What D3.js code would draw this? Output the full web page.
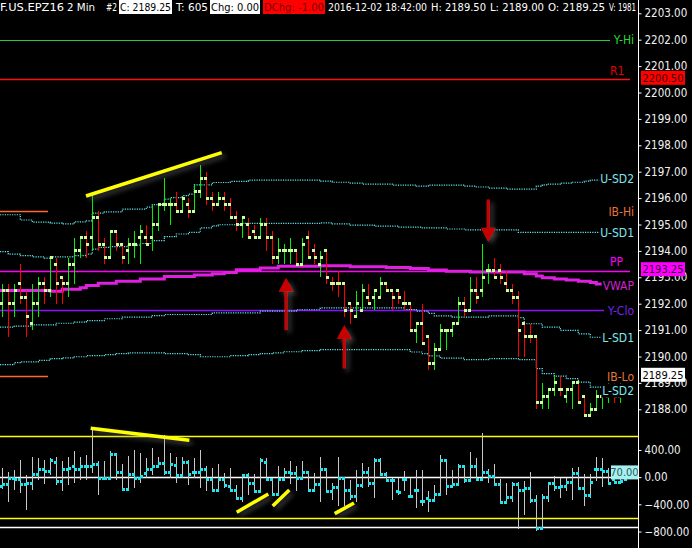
<!DOCTYPE html>
<html>
<head>
<meta charset="utf-8">
<script src="https://cdn.jsdelivr.net/npm/d3@7"></script>
<style>
  html, body { margin: 0; padding: 0; background: #000; }
  svg { display: block; }
  text { font-family: "DejaVu Sans Condensed", "DejaVu Sans", sans-serif; }
</style>
</head>
<body>
<div id="chart"></div>
<script>
// ---- price bars (F.US.EPZ16, 2 min) ----
const open = [2192,2192.5,2192,2192.75,2192.25,2191.25,2192,2192.75,2192.5,2193.5,
  2193,2192.75,2193.5,2194,2194.5,2194.5,2195.25,2194.25,2193.75,2194.75,
  2194.25,2194,2194.25,2194.5,2194.5,2194.5,2195,2195.75,2195.75,2195.75,
  2195.5,2195.75,2195.5,2196.25,2196.75,2196,2195.75,2196,2195.75,2195.25,
  2195,2195,2194.75,2194.5,2195,2194.5,2193.75,2194,2194,2194,
  2193.5,2194.5,2194,2193.5,2194,2192.75,2192.75,2192.75,2192,2191.5,
  2191.75,2192.25,2192.25,2192.25,2192.75,2192.5,2192.5,2192,2192,2191,
  2191.25,2190.75,2189.75,2190.25,2191,2191,2191.25,2192,2191.75,2192.5,
  2192.5,2193.25,2193.25,2193.25,2192.75,2192.5,2192.25,2191.25,2190.75,2190.75,
  2188.25,2188.5,2188.75,2188.75,2188.5,2188.75,2189,2188.5,2187.75,2188,
  2188.5,2188.5,2188.75,2188.5,2189.25];
const high = [2192.75,2192.75,2192.75,2193.5,2192.5,2192.75,2193,2193,2193.75,2193.75,
  2193,2193.75,2194.5,2194.5,2194.75,2196.25,2195.5,2194.5,2194.75,2194.75,
  2194.25,2194.5,2194.75,2195,2195,2195.75,2195.75,2196.75,2196,2196.25,
  2196,2196,2196.5,2197.25,2197,2196.25,2196.25,2196.25,2196,2195.5,
  2195.25,2195.25,2195,2195.25,2195.25,2194.75,2194.5,2194.25,2194.5,2194,
  2194.5,2194.75,2194.25,2194,2194,2193,2193.25,2192.75,2192,2192.5,
  2192.75,2192.75,2192.5,2193,2192.75,2192.5,2192.5,2192.5,2192,2191.25,
  2192,2190.75,2190.5,2191.25,2191,2191.25,2192.25,2192.25,2193,2193,
  2194.25,2193.5,2193.75,2193.5,2193.25,2192.75,2192.5,2191.25,2191.25,2190.75,
  2189,2188.75,2189.25,2189.25,2188.75,2189,2189,2188.5,2188.25,2188.75,
  2188.75,2189,2189,2189,2189.5];
const low = [2191.5,2190.75,2191.5,2192,2190.75,2191,2191.5,2192,2192.25,2192,
  2192,2192.25,2192.75,2193.75,2193.75,2194,2194,2193.5,2193.75,2194,
  2193.5,2193.5,2193.75,2193.5,2194.25,2194,2194.75,2195.5,2195,2195.5,
  2195.5,2195.25,2195.5,2196,2195.75,2195.5,2195.75,2195.5,2195.25,2194.75,
  2194.5,2194.5,2194.5,2194.5,2194,2193.5,2193.5,2193.5,2193.5,2193.5,
  2193.5,2193.75,2193.5,2193,2192.75,2192.5,2192.25,2191.5,2191.25,2191.5,
  2191.75,2192,2191.75,2192.25,2192.5,2191.75,2192,2191.75,2191,2190.5,
  2190.5,2189.5,2189.5,2190.25,2190.25,2190.75,2191.25,2191.5,2191.75,2192,
  2192.25,2192.75,2193,2192.75,2192.5,2192,2190,2190,2190.5,2188,
  2188,2188,2188.5,2188.5,2188.25,2188,2188.25,2187.75,2187.75,2188,
  2188,2188.25,2188.25,2188.25,2189];
const close = [2192.5,2192,2192.5,2192.25,2191.5,2192,2192.75,2192.5,2193.75,2192.75,
  2192.75,2193.5,2194,2194.5,2194.25,2195.25,2194.25,2193.75,2194.75,2194.25,
  2193.75,2194.25,2194.25,2194.75,2194.25,2195,2195.75,2195.75,2195.75,2195.5,
  2196,2195.5,2196.25,2196.75,2196,2195.75,2196,2195.75,2195.25,2195,
  2195.25,2194.5,2194.5,2195,2194.5,2193.75,2194,2194,2194,2193.5,
  2194.25,2193.75,2193.75,2193.75,2193,2192.75,2192.75,2191.75,2191.75,2192,
  2192.5,2192,2192.5,2192.75,2192.5,2192.25,2192.25,2192,2191,2191.25,
  2190.5,2189.75,2190.25,2191,2191,2191.25,2192,2191.75,2192.5,2192.25,
  2193,2193.25,2193,2193,2192.5,2192.25,2191,2190.75,2190.75,2188.25,
  2188.5,2188.75,2189,2188.75,2188.75,2189,2188.25,2187.75,2188,2188.5,
  2188.75,2188.75,2188.5,2188.75,2189.25];

// ---- lower study, o/h/l/c per bar ----
const studyOpen = [-140,-110,-20,-40,-110,-90,40,110,90,220,
  -70,110,150,110,150,150,190,-15,-15,330,
  70,-180,40,-25,60,110,150,200,70,170,
  20,220,70,70,120,-30,-190,-40,-140,-190,
  -310,25,-100,-205,220,-40,-250,-40,70,60,
  -15,70,-200,-110,120,-210,-150,-25,-190,-280,
  -120,70,-90,240,35,-55,-210,-40,-280,-200,
  -365,-320,-345,-260,240,-135,-110,150,-55,150,
  -40,70,10,-110,-370,-300,-110,-190,-160,-345,
  -760,-305,-90,-150,-135,-75,60,-160,-270,120,
  120,90,-40,-75,-40];
const studyHigh = [140,80,110,250,30,290,280,250,280,290,
  240,290,390,300,330,720,240,240,380,330,
  190,310,400,360,280,430,300,620,350,300,
  300,250,280,400,160,130,200,60,140,-110,
  30,60,40,280,280,-15,160,130,240,160,
  240,70,60,300,140,-90,290,-15,-40,110,
  215,150,280,280,70,-15,-5,90,-15,110,
  110,-210,-110,330,250,110,190,160,365,280,
  645,120,190,-25,-90,-65,-75,-55,70,-260,
  -250,-65,10,-5,-15,130,155,45,45,290,
  280,130,80,20,100];
const studyLow = [-180,-360,-190,-230,-480,-190,-40,-100,30,-110,
  -210,-110,-90,-40,-40,60,-260,-40,-40,-40,
  -180,-180,-160,-90,-15,30,130,30,-15,-90,
  -15,-110,-15,-160,-210,-210,-210,-160,-210,-310,
  -360,-260,-210,-230,-40,-280,-250,-60,-100,-210,
  -15,-210,-210,-360,-210,-330,-430,-430,-330,-360,
  -160,-150,-300,10,-60,-330,-260,-210,-280,-450,
  -430,-510,-360,-260,-260,-160,-135,-90,-75,-60,
  -40,-90,-110,-395,-370,-360,-770,-550,-380,-795,
  -785,-360,-210,-300,-210,-330,-185,-430,-310,-60,
  -150,-90,-90,-90,-60];
const studyClose = [-110,-20,-40,-110,-90,40,110,90,250,-70,
  110,130,110,150,150,190,-15,-15,330,70,
  -180,40,-25,10,110,150,200,70,190,20,
  220,40,70,120,-30,-190,-40,-130,-190,-310,
  25,-90,-205,240,-40,-250,-40,70,60,-15,
  70,-200,-110,120,-210,-150,-25,-190,-280,-120,
  70,-90,240,35,-55,-55,-220,-40,-280,-200,
  -365,-345,-260,240,-135,-110,150,-55,150,-40,
  70,10,-110,-370,-300,-110,-190,-160,-345,-760,
  -305,-90,-150,-135,-75,60,-160,-270,-75,120,
  90,-90,-75,-60,70];
const studyLevels = [600, 0, -600, -730];
const studyTicks = [400, 0, -400, -800];

// ---- vwap and bands, [bar, price] ----
const vwapPts = [[-0.4,2192.5],[8,2192.47],[10,2192.55],[13,2192.6],[14,2192.69],[16,2192.77],[19,2192.85],
  [23,2192.94],[27,2193.03],[32,2193.09],[35,2193.13],[37,2193.18],[39,2193.29],[43,2193.35],[46,2193.42],
  [53,2193.44],[58,2193.4],[64,2193.37],[68,2193.33],[71,2193.28],[74,2193.23],[78,2193.2],[86,2193.2],
  [87,2193.13],[89,2193.05],[90,2192.98],[92,2192.94],[94,2192.9],[96,2192.85],[98,2192.8],[99,2192.75],[100,2192.7]];
const uSd2Pts = [[-0.4,2195.37],[3,2195.17],[5,2195.09],[8,2195.05],[10,2195.02],[12,2195.1],[14,2195.14],
  [15,2195.43],[17,2195.48],[20,2195.58],[24,2195.66],[25,2195.75],[27,2195.96],[28,2196.02],[30,2196.09],
  [31,2196.15],[32,2196.5],[35,2196.59],[38,2196.63],[41,2196.68],[50,2196.68],[53,2196.64],[55,2196.6],
  [58,2196.57],[60,2196.53],[65,2196.49],[69,2196.45],[71,2196.49],[77,2196.45],[79,2196.42],[81,2196.38],
  [84,2196.34],[89,2196.45],[90,2196.5],[91,2196.53],[93,2196.57],[95,2196.6],[97,2196.64],[98,2196.68],[100,2196.72]];
const uSd1Pts = [[-0.4,2193.97],[1,2193.88],[3,2193.82],[5,2193.77],[7,2193.73],[8,2193.77],[12,2193.82],
  [14,2193.88],[15,2194.07],[16,2194.13],[18,2194.16],[21,2194.22],[23,2194.28],[25,2194.39],[27,2194.54],
  [29,2194.64],[31,2194.7],[33,2194.87],[35,2194.95],[36,2194.99],[40,2195.04],[53,2195.06],[55,2195.02],
  [58,2194.98],[62,2194.94],[66,2194.9],[70,2194.87],[74,2194.83],[77,2194.8],[86,2194.7],[100,2194.7]];
const lSd1Pts = [[-0.4,2191.11],[2,2191.15],[5,2191.2],[9,2191.26],[12,2191.3],[14,2191.36],[17,2191.43],
  [20,2191.49],[25,2191.55],[27,2191.59],[35,2191.65],[43,2191.72],[49,2191.77],[53,2191.84],[67,2191.78],
  [69,2191.72],[71,2191.63],[72,2191.54],[75,2191.49],[81,2191.54],[86,2191.47],[87,2191.24],[90,2191.11],
  [93,2190.99],[96,2190.86],[98,2190.73],[100,2190.72]];
const lSd2Pts = [[-0.4,2189.69],[2,2189.77],[3,2189.8],[6,2189.85],[8,2189.92],[10,2189.95],[12,2189.99],
  [14,2190.03],[17,2190.07],[19,2190.11],[21,2190.14],[27,2190.11],[31,2190.07],[33,2189.99],[38,2190.03],
  [41,2190.07],[43,2190.11],[45,2190.14],[47,2190.18],[50,2190.22],[53,2190.26],[68,2190.17],[70,2190.11],
  [71,2190.02],[73,2189.94],[77,2189.88],[81,2189.92],[86,2189.88],[89,2189.54],[90,2189.35],[92,2189.26],
  [94,2189.16],[96,2189.03],[98,2188.84],[100,2188.83]];

// ---- fixed levels ----
const levelNames = ["Y-Hi", "R1", "PP", "Y-Clo", "IB-Hi", "IB-Lo"];
const levelValues = [2202.0, 2200.5, 2193.25, 2191.75, 2195.5, 2189.25];
const priceTicks = d3.range(2188, 2204);

// ---- hand drawn marks, [bar, value] ----
const priceTrend = [[13.95, 2196.08], [36.57, 2197.72]];
const studyTrends = [
  [[14.73, 720], [31.17, 543]],
  [[39.07, -517], [44.33, -247]],
  [[45.07, -424], [47.83, -188]],
  [[55.4, -537], [58.62, -380]]
];
const highlight = [[45.1, 2193.34], [49.3, 2193.34]];
const arrows = [ // bar, tail price, tip price
  [47.3, 2191.0, 2192.98],
  [57.0, 2189.55, 2191.19],
  [81.0, 2195.95, 2194.35]
];

// header strip
const header = [
  { t: "F.US.EPZ16", x0: 0, x1: 64 },
  { t: "2 Min", x0: 67, x1: 95 },
  { t: "#2", x0: 106, x1: 117 },
  { t: "C: 2189.25", x0: 120, x1: 171, box: "#ffffff", fill: "#000" },
  { t: "T: 605", x0: 176, x1: 208 },
  { t: "Chg: 0.00", x0: 211, x1: 259, box: "#ffffff", fill: "#000" },
  { t: "DChg: -1.00", x0: 264, x1: 324, box: "#ff0000", fill: "#7a0000" },
  { t: "2016-12-02 18:42:00", x0: 328, x1: 427 },
  { t: "H: 2189.50", x0: 431, x1: 486 },
  { t: "L: 2189.00", x0: 490, x1: 544 },
  { t: "O: 2189.25", x0: 548, x1: 605 },
  { t: "V: 1981", x0: 609, x1: 636 }
];

// ================= drawing =================
const width = 692, height = 548;
const axisX = 638;
const n = close.length;

const x = d3.scaleLinear().domain([0, 104]).range([2.3, 626.3]);
const y = d3.scaleLinear().domain([2188, 2203]).range([409.3, 13.3]);
const ys = d3.scaleLinear().domain([-800, 400]).range([531.5, 450]);

const svg = d3.select("#chart").append("svg")
  .attr("width", width)
  .attr("height", height);

svg.append("rect").attr("width", width).attr("height", height).attr("fill", "#000");

const defs = svg.append("defs");
const shadow = defs.append("filter").attr("id", "shadow")
  .attr("x", "-50%").attr("y", "-50%").attr("width", "200%").attr("height", "200%");
shadow.append("feDropShadow")
  .attr("dx", 3).attr("dy", 3).attr("stdDeviation", 2.5)
  .attr("flood-color", "#777").attr("flood-opacity", 0.55);

const levelColor = {
  "Y-Hi": "#22cc44", "R1": "#ff1010", "PP": "#ff00ff",
  "Y-Clo": "#8a10ff", "IB-Hi": "#ff6a2a", "IB-Lo": "#ff6a2a"
};
const levelEnd = { "Y-Hi": 610, "R1": 630, "PP": 630, "Y-Clo": 604, "IB-Hi": 48, "IB-Lo": 48 };

// level lines
const lv = svg.append("g");
levelNames.forEach((name, i) => {
  const yy = Math.round(y(levelValues[i])) + 0.5;
  lv.append("line")
    .attr("x1", 0).attr("x2", levelEnd[name])
    .attr("y1", yy).attr("y2", yy)
    .attr("stroke", levelColor[name])
    .attr("stroke-width", name === "Y-Hi" ? 1 : 1.5);
});

// bands (dotted steps) and vwap
const stepLine = d3.line()
  .x(d => Math.max(0, x(d[0])))
  .y(d => y(d[1]))
  .curve(d3.curveStepAfter);

[uSd2Pts, uSd1Pts, lSd1Pts, lSd2Pts].forEach(pts => {
  svg.append("path")
    .attr("d", stepLine(pts))
    .attr("fill", "none")
    .attr("stroke", "#5ee8ee")
    .attr("stroke-width", 1.2)
    .attr("stroke-dasharray", "1.2,1.2");
});

svg.append("path")
  .attr("d", stepLine(vwapPts))
  .attr("fill", "none")
  .attr("stroke", "#e020e0")
  .attr("stroke-width", 3);

// price bars
const upFlags = [];
close.forEach((c, i) => {
  let up;
  if (c > open[i]) up = true;
  else if (c < open[i]) up = false;
  else if (i > 0 && c !== close[i - 1]) up = c > close[i - 1];
  else up = i > 0 ? upFlags[i - 1] : true;
  upFlags.push(up);
});

const bars = svg.append("g").attr("shape-rendering", "crispEdges");
d3.range(n).forEach(i => {
  const cx = Math.round(x(i));
  bars.append("line")
    .attr("x1", cx + 0.5).attr("x2", cx + 0.5)
    .attr("y1", y(high[i])).attr("y2", y(low[i]))
    .attr("stroke", upFlags[i] ? "#00f000" : "#ff0000")
    .attr("stroke-width", 1);
  bars.append("rect")
    .attr("x", cx - 2).attr("y", y(open[i]) - 1.5)
    .attr("width", 3).attr("height", 3)
    .attr("fill", "#ccff99");
  bars.append("rect")
    .attr("x", cx).attr("y", y(close[i]) - 1.5)
    .attr("width", 3).attr("height", 3)
    .attr("fill", "#ccff99");
});

// hand drawn marks in price panel
svg.append("line")
  .attr("x1", x(priceTrend[0][0])).attr("y1", y(priceTrend[0][1]))
  .attr("x2", x(priceTrend[1][0])).attr("y2", y(priceTrend[1][1]))
  .attr("stroke", "#ffff00").attr("stroke-width", 3.5)
  .attr("filter", "url(#shadow)");

svg.append("line")
  .attr("x1", x(highlight[0][0])).attr("y1", y(highlight[0][1]))
  .attr("x2", x(highlight[1][0])).attr("y2", y(highlight[1][1]))
  .attr("stroke", "#ffff00").attr("stroke-width", 4)
  .attr("filter", "url(#shadow)");

arrows.forEach(a => {
  const ax = x(a[0]);
  const tail = y(a[1]), tip = y(a[2]);
  const dir = tip < tail ? 1 : -1;      // 1 = pointing up
  const base = tip + dir * 14;
  const g = svg.append("g").attr("filter", "url(#shadow)");
  g.append("line")
    .attr("x1", ax).attr("x2", ax).attr("y1", tail).attr("y2", base)
    .attr("stroke", "#c80000").attr("stroke-width", 3.2);
  g.append("path")
    .attr("d", `M${ax},${tip}L${ax - 7.5},${base}L${ax + 7.5},${base}Z`)
    .attr("fill", "#c80000");
});

// right-side labels with black backing
const labelFont = 12;
const rightLabels = [
  { t: "Y-Hi", v: levelValues[0], c: "#22dd33" },
  { t: "U-SD2", v: uSd2Pts[uSd2Pts.length - 1][1], c: "#7fe6ee" },
  { t: "IB-Hi", v: levelValues[4], c: "#e8743a" },
  { t: "U-SD1", v: uSd1Pts[uSd1Pts.length - 1][1], c: "#7fe6ee" },
  { t: "VWAP", v: vwapPts[vwapPts.length - 1][1], c: "#d020d0" },
  { t: "Y-Clo", v: levelValues[3], c: "#7a22ee" },
  { t: "L-SD1", v: lSd1Pts[lSd1Pts.length - 1][1], c: "#7fe6ee" },
  { t: "IB-Lo", v: levelValues[5], c: "#e8743a" },
  { t: "L-SD2", v: lSd2Pts[lSd2Pts.length - 1][1], c: "#7fe6ee" }
];
rightLabels.forEach(d => d.y = y(d.v));
rightLabels.sort((a, b) => a.y - b.y);
for (let i = 1; i < rightLabels.length; i++) {
  if (rightLabels[i].y - rightLabels[i - 1].y < 14.5) rightLabels[i].y = rightLabels[i - 1].y + 14.5;
}
const lg = svg.append("g");
rightLabels.forEach(d => {
  const g = lg.append("g");
  const bg = g.append("rect").attr("fill", "#000");
  const t = g.append("text")
    .attr("x", 634).attr("y", d.y).attr("dy", "0.36em")
    .attr("text-anchor", "end")
    .attr("fill", d.c)
    .style("font-size", labelFont + "px")
    .text(d.t);
  const b = t.node().getBBox();
  bg.attr("x", b.x - 1).attr("y", d.y - 7).attr("width", b.width + 2).attr("height", 14);
});

// labels that sit above their line
[["R1", 1, "#e00000", 4], ["PP", 2, "#ff00ff", 4.5]].forEach(([name, i, c, off]) => {
  svg.append("text")
    .attr("x", 610).attr("y", y(levelValues[i]) - off)
    .attr("fill", c)
    .style("font-size", labelFont + "px")
    .text(name);
});

// ---- lower study ----
const sg = svg.append("g");
studyLevels.forEach(v => {
  const yy = Math.round(ys(v)) + 0.5;
  sg.append("line")
    .attr("x1", 0).attr("x2", axisX)
    .attr("y1", yy).attr("y2", yy)
    .attr("stroke", (v === 600 || v === -600) ? "#ffff00" : "#ffffff")
    .attr("stroke-width", 1.4);
});

const sb = sg.append("g").attr("shape-rendering", "crispEdges");
d3.range(n).forEach(i => {
  const cx = Math.round(x(i));
  sb.append("line")
    .attr("x1", cx + 0.5).attr("x2", cx + 0.5)
    .attr("y1", ys(studyHigh[i])).attr("y2", ys(studyLow[i]))
    .attr("stroke", "#c8c8c8").attr("stroke-width", 1);
  sb.append("rect")
    .attr("x", cx - 2).attr("y", ys(studyOpen[i]) - 1.5)
    .attr("width", 3).attr("height", 3).attr("fill", "#22e6ee");
  sb.append("rect")
    .attr("x", cx).attr("y", ys(studyClose[i]) - 1.5)
    .attr("width", 3).attr("height", 3).attr("fill", "#22e6ee");
});

studyTrends.forEach(tr => {
  sg.append("line")
    .attr("x1", x(tr[0][0])).attr("y1", ys(tr[0][1]))
    .attr("x2", x(tr[1][0])).attr("y2", ys(tr[1][1]))
    .attr("stroke", "#ffff00").attr("stroke-width", 3.5)
    .attr("filter", "url(#shadow)");
});

// current study value box
const lastStudy = studyClose[n - 1];
const sbox = sg.append("g");
sbox.append("rect")
  .attr("x", 611).attr("y", ys(lastStudy) - 7)
  .attr("width", 27).attr("height", 14)
  .attr("fill", "#a8f0f0");
sbox.append("text")
  .attr("x", 624.5).attr("y", ys(lastStudy)).attr("dy", "0.36em")
  .attr("text-anchor", "middle")
  .attr("fill", "#2a5a5a")
  .style("font-size", "11px")
  .text(d3.format(".2f")(lastStudy));

// ---- axes ----
svg.append("line")
  .attr("x1", axisX + 0.5).attr("x2", axisX + 0.5)
  .attr("y1", 0).attr("y2", height)
  .attr("stroke", "#ffffff").attr("stroke-width", 1);

const fmt = d3.format(".2f");
const yAxis = svg.append("g")
  .attr("transform", `translate(${axisX + 0.5},0)`)
  .call(d3.axisRight(y).tickValues(priceTicks).tickFormat(fmt).tickSize(3).tickPadding(3));
const sAxis = svg.append("g")
  .attr("transform", `translate(${axisX + 0.5},0)`)
  .call(d3.axisRight(ys).tickValues(studyTicks).tickFormat(fmt).tickSize(3).tickPadding(3));
[yAxis, sAxis].forEach(a => {
  a.select(".domain").remove();
  a.selectAll("line").attr("stroke", "#ffffff");
  a.selectAll("text")
    .attr("fill", "#f2f2f2")
    .style("font-size", "11.5px")
    .style("font-family", "\"DejaVu Sans Condensed\", \"DejaVu Sans\", sans-serif");
});

// value boxes on the price axis (drawn over the tick labels, as the platform does)
const axisBoxes = [
  { v: levelValues[1], bg: "#ff0000", fg: "#3a0000" },
  { v: levelValues[2], bg: "#ff00ff", fg: "#300030" },
  { v: close[n - 1], bg: "#ffffff", fg: "#000000" }
];
axisBoxes.forEach(d => {
  const yy = y(d.v) - 1.5;
  svg.append("rect")
    .attr("x", axisX + 3).attr("y", yy - 7)
    .attr("width", 44).attr("height", 14)
    .attr("fill", d.bg);
  svg.append("text")
    .attr("x", axisX + 25).attr("y", yy).attr("dy", "0.36em")
    .attr("text-anchor", "middle")
    .attr("fill", d.fg)
    .style("font-size", "11px")
    .text(fmt(d.v));
});

// ---- header strip ----
const hg = svg.append("g");
header.forEach(h => {
  if (h.box) {
    hg.append("rect")
      .attr("x", h.x0 - 1).attr("y", 0)
      .attr("width", h.x1 - h.x0 + 2).attr("height", 14)
      .attr("fill", h.box);
  }
  hg.append("text")
    .attr("x", h.x0).attr("y", 11)
    .attr("fill", h.fill || "#ffffff")
    .attr("textLength", h.x1 - h.x0)
    .attr("lengthAdjust", "spacingAndGlyphs")
    .style("font-size", "10.5px")
    .text(h.t);
});
</script>
</body>
</html>
